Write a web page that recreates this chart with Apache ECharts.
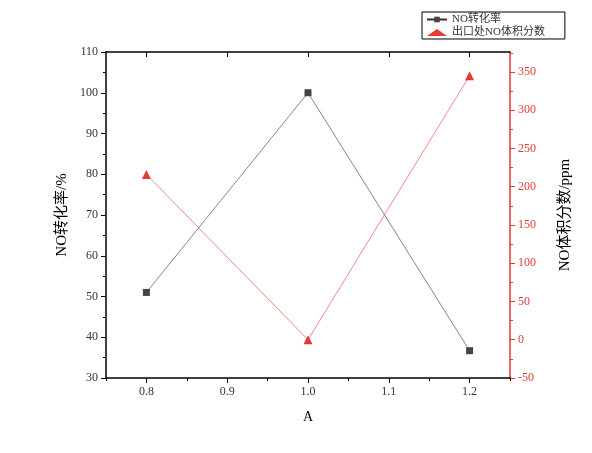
<!DOCTYPE html>
<html><head><meta charset="utf-8">
<script src="https://cdn.jsdelivr.net/npm/echarts@6/dist/echarts.min.js"></script>
<style>html,body{margin:0;padding:0;background:#fff}#c{width:592px;height:453px}</style>
</head><body><div id="c"></div>
<script>
const xValues = [0.8, 1.0, 1.2];
const conversion = [51, 100, 36.7];
const outletNO = [216, 0, 345];
const xMajorTicks = [0.8, 0.9, 1.0, 1.1, 1.2];
const xMinorTicks = [0.75, 0.85, 0.95, 1.05, 1.15, 1.25];
const rightMajorTicks = [-50, 0, 50, 100, 150, 200, 250, 300, 350];
const rightMinorTicks = [-25, 25, 75, 125, 175, 225, 275, 325, 375];
const seriesNames = ['NO转化率', '出口处NO体积分数'];
const axisTitles = { x: 'A', left: 'NO转化率/%', right: 'NO体积分数/ppm' };

const FONT = "'Liberation Serif', 'Noto Sans CJK SC', serif";
const BLACK = '#000';
const RED = '#e53935';
const chart = echarts.init(document.getElementById('c'), null, { renderer: 'canvas' });

const baseX = { type: 'value', min: 0.75, max: 1.25, gridIndex: 0 };
const option = {
  animation: false,
  backgroundColor: '#fff',
  textStyle: { fontFamily: FONT },
  grid: { left: 106, right: 82, top: 52, bottom: 75, containLabel: false },
  legend: {
    left: 422, top: 12, orient: 'vertical',
    borderColor: '#000', borderWidth: 1, borderRadius: 0,
    padding: [2, 20, 1, 4], itemGap: 2, itemWidth: 20, itemHeight: 7,
    textStyle: { fontFamily: FONT, fontSize: 11, color: '#333' },
    data: [
      { name: seriesNames[0] },
      { name: seriesNames[1], icon: 'triangle', itemStyle: { color: RED } }
    ]
  },
  xAxis: [
    Object.assign({}, baseX, {
      position: 'bottom',
      name: axisTitles.x, nameLocation: 'middle', nameGap: 32,
      nameTextStyle: { fontFamily: FONT, fontSize: 14, color: '#000' },
      axisLine: { show: true, onZero: false, lineStyle: { color: BLACK, width: 1.5 } },
      axisTick: { show: true, inside: false, length: 5, customValues: xMajorTicks, lineStyle: { color: BLACK } },
      axisLabel: { customValues: xMajorTicks, formatter: v => v.toFixed(1), color: '#333', fontSize: 12, margin: 8, fontFamily: FONT },
      splitLine: { show: false }
    }),
    Object.assign({}, baseX, {
      position: 'bottom',
      axisLine: { show: false, onZero: false },
      axisTick: { show: true, inside: false, length: 3, customValues: xMinorTicks, lineStyle: { color: BLACK } },
      axisLabel: { show: false },
      splitLine: { show: false }
    }),
    Object.assign({}, baseX, {
      position: 'top',
      axisLine: { show: true, onZero: false, lineStyle: { color: BLACK, width: 1.5 } },
      axisTick: { show: true, inside: true, length: 5, customValues: xMajorTicks, lineStyle: { color: BLACK } },
      axisLabel: { show: false },
      splitLine: { show: false }
    })
  ],
  yAxis: [
    {
      type: 'value', min: 30, max: 110, interval: 10, position: 'left',
      name: axisTitles.left, nameLocation: 'middle', nameGap: 36, nameRotate: 90,
      nameTextStyle: { fontFamily: FONT, fontSize: 15, color: '#000' },
      axisLine: { show: true, onZero: false, lineStyle: { color: BLACK, width: 1.5 } },
      axisTick: { show: true, inside: false, length: 5, lineStyle: { color: BLACK } },
      minorTick: { show: true, splitNumber: 2, length: 3, lineStyle: { color: BLACK } },
      axisLabel: { color: '#333', fontSize: 12, margin: 8, fontFamily: FONT },
      splitLine: { show: false }
    },
    {
      type: 'value', min: -50, max: 376, position: 'right',
      name: axisTitles.right, nameLocation: 'middle', nameGap: 48, nameRotate: 90,
      nameTextStyle: { fontFamily: FONT, fontSize: 15, color: '#000' },
      axisLine: { show: true, onZero: false, lineStyle: { color: RED, width: 1.5 } },
      axisTick: { show: true, inside: false, length: 5, customValues: rightMajorTicks, lineStyle: { color: RED } },
      axisLabel: { customValues: rightMajorTicks, color: RED, fontSize: 12, margin: 8, fontFamily: FONT },
      splitLine: { show: false }
    },
    {
      type: 'value', min: -50, max: 376, position: 'right',
      axisLine: { show: false, onZero: false },
      axisTick: { show: true, inside: false, length: 3, customValues: rightMinorTicks, lineStyle: { color: RED } },
      axisLabel: { show: false },
      splitLine: { show: false }
    }
  ],
  series: [
    {
      name: seriesNames[0], type: 'line', xAxisIndex: 0, yAxisIndex: 0,
      data: xValues.map((x, i) => [x, conversion[i]]),
      symbol: 'rect', symbolSize: 7,
      lineStyle: { color: '#333', width: 0.6 },
      itemStyle: { color: '#444' },
      z: 3
    },
    {
      name: seriesNames[1], type: 'line', xAxisIndex: 0, yAxisIndex: 1,
      data: xValues.map((x, i) => [x, outletNO[i]]),
      symbol: 'triangle', symbolSize: 9,
      lineStyle: { color: RED, width: 0.6 },
      itemStyle: { color: RED },
      z: 3
    }
  ]
};
chart.setOption(option);
</script>
</body></html>
